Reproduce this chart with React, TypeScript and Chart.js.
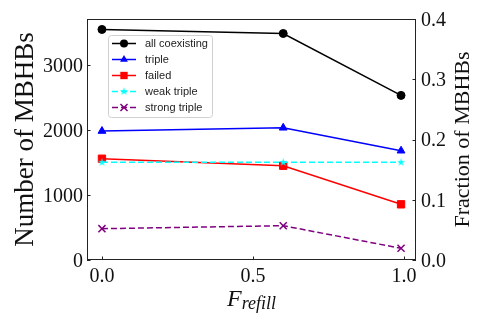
import React, { useEffect, useRef } from "react";
import { Chart, registerables } from "chart.js";
Chart.register(...registerables);

// ---- data ----
const X_VALUES = [0, 0.6, 0.99];
const ALL_COEXISTING = [3549, 3487, 2534];
const TRIPLE = [1985, 2035, 1682];
const FAILED = [1559, 1451, 857];
const WEAK_TRIPLE = [1503, 1503, 1503];
const STRONG_TRIPLE = [482, 528, 180];
const SERIES_LABELS = ["all coexisting", "triple", "failed", "weak triple", "strong triple"];
const SERIES_COLORS = ["#000000", "#0000ff", "#ff0000", "#00ffff", "#800080"];
const X_TICKS = [0, 0.5, 1.0];
const LEFT_TICKS = [0, 1000, 2000, 3000];
const RIGHT_TICKS = [0, 0.1, 0.2, 0.3, 0.4];
const Y_LABEL = "Number of MBHBs";
const Y2_LABEL = "Fraction of MBHBs";
const X_LABEL_MAIN = "F";
const X_LABEL_SUB = "refill";

function makeStar(R: number, color: string) {
  const c = document.createElement("canvas");
  const s = Math.ceil(R * 2 + 2);
  c.width = s;
  c.height = s;
  const ctx = c.getContext("2d")!;
  const cx = s / 2, cy = s / 2;
  const r = R * 0.382;
  ctx.beginPath();
  for (let i = 0; i < 10; i++) {
    const rad = i % 2 === 0 ? R : r;
    const a = -Math.PI / 2 + (i * Math.PI) / 5;
    const x = cx + rad * Math.cos(a), y = cy + rad * Math.sin(a);
    if (i === 0) ctx.moveTo(x, y);
    else ctx.lineTo(x, y);
  }
  ctx.closePath();
  ctx.fillStyle = color;
  ctx.fill();
  return c;
}

export default function App() {
  const ref = useRef<HTMLCanvasElement>(null);
  useEffect(() => {
    const star = makeStar(4.2, SERIES_COLORS[3]);
    const values = [ALL_COEXISTING, TRIPLE, FAILED, WEAK_TRIPLE, STRONG_TRIPLE];
    const styles: any[] = ["circle", "triangle", "rect", star, "crossRot"];
    const radii = [4, 4.5, 5.2, 4, 5];
    const dashes = [[], [], [], [6, 3], [6, 3]];

    const datasets = values.map((vals, i) => ({
      label: SERIES_LABELS[i],
      data: X_VALUES.map((x, j) => ({ x, y: vals[j] })),
      borderColor: SERIES_COLORS[i],
      backgroundColor: SERIES_COLORS[i],
      borderWidth: 1.5,
      borderDash: dashes[i],
      pointStyle: styles[i],
      pointRadius: radii[i],
      pointBorderWidth: i === 4 ? 1.5 : 1,
      pointBorderColor: SERIES_COLORS[i],
      pointBackgroundColor: SERIES_COLORS[i],
      order: 5 - i,
      yAxisID: "y",
    }));

    const overlay = {
      id: "overlay",
      afterDatasetsDraw(chart: any) {
        const { ctx, chartArea: a, scales } = chart;
        ctx.save();
        ctx.strokeStyle = "#222";
        ctx.lineWidth = 1;
        ctx.strokeRect(a.left + 0.5, a.top + 0.5, a.right - a.left - 1, a.bottom - a.top - 1);
        const tl = 3.5;
        ctx.beginPath();
        for (const t of scales.x.ticks) {
          const p = Math.round(scales.x.getPixelForValue(t.value)) + 0.5;
          ctx.moveTo(p, a.bottom);
          ctx.lineTo(p, a.bottom - tl);
        }
        for (const t of scales.y.ticks) {
          const p = Math.round(scales.y.getPixelForValue(t.value)) + 0.5;
          ctx.moveTo(a.left, p);
          ctx.lineTo(a.left + tl, p);
        }
        for (const t of scales.y1.ticks) {
          const p = Math.round(scales.y1.getPixelForValue(t.value)) + 0.5;
          ctx.moveTo(a.right, p);
          ctx.lineTo(a.right - tl, p);
        }
        ctx.stroke();
        ctx.restore();
      },
      afterDraw(chart: any) {
        const { ctx, chartArea: a } = chart;
        ctx.save();
        // axis titles
        ctx.fillStyle = "#111";
        ctx.textAlign = "center";
        ctx.textBaseline = "alphabetic";
        const cy = (a.top + a.bottom) / 2;
        ctx.font = "27px 'Liberation Serif'";
        ctx.translate(33, cy);
        ctx.rotate(-Math.PI / 2);
        ctx.fillText(Y_LABEL, 0, 0);
        ctx.setTransform(1, 0, 0, 1, 0, 0);
        ctx.font = "22px 'Liberation Serif'";
        ctx.translate(469, cy);
        ctx.rotate(-Math.PI / 2);
        ctx.fillText(Y2_LABEL, 0, 0);
        ctx.setTransform(1, 0, 0, 1, 0, 0);
        // x title with subscript
        ctx.textAlign = "left";
        ctx.font = "italic 24px 'Liberation Serif'";
        const wF = ctx.measureText(X_LABEL_MAIN).width;
        ctx.font = "italic 18px 'Liberation Serif'";
        const wS = ctx.measureText(X_LABEL_SUB).width;
        const cx = (a.left + a.right) / 2;
        const x0 = cx - (wF + wS) / 2;
        ctx.font = "italic 24px 'Liberation Serif'";
        ctx.fillText(X_LABEL_MAIN, x0, 305.5);
        ctx.font = "italic 18px 'Liberation Serif'";
        ctx.fillText(X_LABEL_SUB, x0 + wF, 309);

        // legend
        const lx = a.left + 21, ly = a.top + 16, lw = 104, lh = 82;
        ctx.beginPath();
        (ctx as any).roundRect(lx + 0.5, ly + 0.5, lw, lh, 3);
        ctx.fillStyle = "rgba(255,255,255,0.85)";
        ctx.fill();
        ctx.strokeStyle = "#d0d0d0";
        ctx.lineWidth = 1;
        ctx.stroke();
        ctx.font = "11px 'Liberation Sans'";
        ctx.textBaseline = "middle";
        for (let i = 0; i < SERIES_LABELS.length; i++) {
          const y = ly + 8.5 + i * 16;
          const col = SERIES_COLORS[i];
          ctx.strokeStyle = col;
          ctx.fillStyle = col;
          ctx.lineWidth = 1.5;
          ctx.setLineDash(dashes[i]);
          ctx.beginPath();
          ctx.moveTo(lx + 4, y);
          ctx.lineTo(lx + 28, y);
          ctx.stroke();
          ctx.setLineDash([]);
          const mx = lx + 16;
          const r = radii[i];
          ctx.beginPath();
          if (i === 0) {
            ctx.arc(mx, y, r, 0, Math.PI * 2);
            ctx.fill();
          } else if (i === 1) {
            const h = r;
            ctx.moveTo(mx, y - h);
            ctx.lineTo(mx + h * 0.866, y + h * 0.5);
            ctx.lineTo(mx - h * 0.866, y + h * 0.5);
            ctx.closePath();
            ctx.fill();
          } else if (i === 2) {
            const s = r * Math.SQRT1_2;
            ctx.rect(mx - s, y - s, 2 * s, 2 * s);
            ctx.fill();
          } else if (i === 3) {
            ctx.drawImage(star, mx - star.width / 2, y - star.height / 2);
          } else {
            const s = r * Math.SQRT1_2;
            ctx.moveTo(mx - s, y - s);
            ctx.lineTo(mx + s, y + s);
            ctx.moveTo(mx + s, y - s);
            ctx.lineTo(mx - s, y + s);
            ctx.stroke();
          }
          ctx.fillStyle = "#222";
          ctx.fillText(SERIES_LABELS[i], lx + 37, y + 0.5);
        }
        ctx.restore();
      },
    };

    const serif = { family: "'Liberation Serif'", size: 20 };
    const chart = new Chart(ref.current!, {
      type: "line",
      data: { datasets: datasets as any },
      options: {
        animation: false,
        responsive: false,
        devicePixelRatio: 1,
        layout: { padding: { top: 19, left: 0, right: 0, bottom: 0 } },
        plugins: { legend: { display: false }, tooltip: { enabled: false } },
        scales: {
          x: {
            type: "linear",
            min: -0.0495,
            max: 1.0395,
            grid: { display: false, drawTicks: false },
            border: { display: false },
            ticks: { font: serif, color: "#111", padding: 5, maxRotation: 0, callback: (v: any) => Number(v).toFixed(1) },
            afterBuildTicks: (s: any) => { s.ticks = X_TICKS.map((v) => ({ value: v })); },
            afterFit: (s: any) => { s.height = 63; },
          },
          y: {
            type: "linear",
            position: "left",
            min: 0,
            max: 3710,
            grid: { display: false, drawTicks: false },
            border: { display: false },
            ticks: { font: serif, color: "#111", padding: 4, labelOffset: 1.5, callback: (v: any) => String(v) },
            afterBuildTicks: (s: any) => { s.ticks = LEFT_TICKS.map((v) => ({ value: v })); },
            afterFit: (s: any) => { s.width = 87; },
          },
          y1: {
            type: "linear",
            position: "right",
            display: true,
            min: 0,
            max: 0.4,
            grid: { display: false, drawTicks: false },
            border: { display: false },
            ticks: { font: serif, color: "#111", padding: 5, labelOffset: 1.5, callback: (v: any) => Number(v).toFixed(1) },
            afterBuildTicks: (s: any) => { s.ticks = RIGHT_TICKS.map((v) => ({ value: v })); },
            afterFit: (s: any) => { s.width = 69; },
          },
        },
      },
      plugins: [overlay],
    });
    return () => chart.destroy();
  }, []);
  return (
    <div style={{ position: "absolute", left: 0, top: 0, width: 485, height: 323, background: "#fff" }}>
      <canvas ref={ref} width={485} height={323} style={{ display: "block" }} />
    </div>
  );
}
